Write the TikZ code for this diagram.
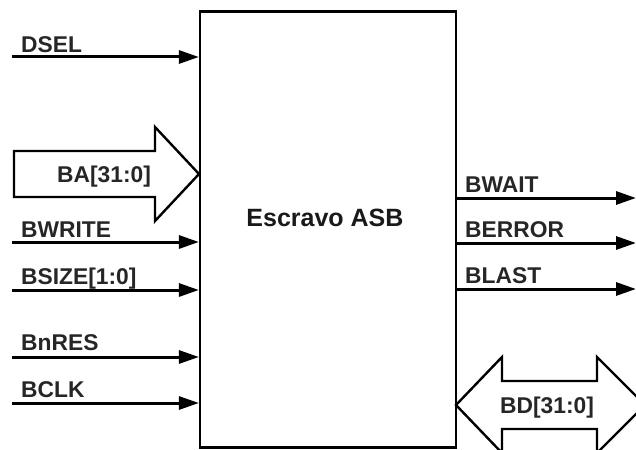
\documentclass[tikz,border=0pt]{standalone}
\usepackage{fontspec}
\setmainfont{Liberation Sans}
\usetikzlibrary{arrows.meta}
\begin{document}
\begin{tikzpicture}[x=1pt,y=-1pt,
  sig/.style={line width=3pt,-{Triangle[length=20pt,width=13pt]}},
  lbl/.style={anchor=base west,inner sep=0pt,font=\bfseries\fontsize{22.8}{26}\selectfont,text=black!85},
  bus/.style={line width=2.4pt,line join=miter,fill=white},
  blk/.style={draw,line width=2.2pt,minimum width=256pt,minimum height=436pt,inner sep=0pt}]
\useasboundingbox (0,0) rectangle (636,449);
% main block
\node[blk] (box) at (328,229.5) {};
\node[font=\bfseries\fontsize{25}{30}\selectfont,text=black!90,inner sep=0pt] (title) at (325,218) {Escravo ASB};
% input signals
\coordinate (dsel) at (12,57);
\coordinate (bwrite) at (12,242);
\coordinate (bsize) at (12,290);
\coordinate (bnres) at (12,357);
\coordinate (bclk) at (12,403);
\draw[sig] (dsel) -- (dsel -| box.west);
\draw[sig] (bwrite) -- (bwrite -| box.west);
\draw[sig] (bsize) -- (bsize -| box.west);
\draw[sig] (bnres) -- (bnres -| box.west);
\draw[sig] (bclk) -- (bclk -| box.west);
\node[lbl] (ldsel) at (21,53) {DSEL};
\node[lbl] (lbwrite) at (21,237) {BWRITE};
\node[lbl] (lbsize) at (21,284) {BSIZE[1:0]};
\node[lbl] (lbnres) at (21,350) {BnRES};
\node[lbl] (lbclk) at (21,397) {BCLK};
% output signals
\coordinate (bwait) at (636,198);
\coordinate (berror) at (636,243);
\coordinate (blast) at (636,289);
\draw[sig] (bwait -| box.east) -- (bwait);
\draw[sig] (berror -| box.east) -- (berror);
\draw[sig] (blast -| box.east) -- (blast);
\node[lbl] (lbwait) at (465,192) {BWAIT};
\node[lbl] (lberror) at (465,237) {BERROR};
\node[lbl] (lblast) at (465,283) {BLAST};
% BA bus arrow (input)
\draw[bus] (14,151) -- (155,151) -- (155,127) -- (199,174) -- (155,221) -- (155,197) -- (14,197) -- cycle;
\node[lbl] (lba) at (57,182) {BA[31:0]};
% BD bus arrow (bidirectional)
\draw[bus] (456,405) -- (502,357) -- (502,381) -- (597,381) -- (597,357) -- (645,405) -- (597,453) -- (597,429) -- (502,429) -- (502,453) -- cycle;
\node[lbl] (lbd) at (500,413) {BD[31:0]};
\end{tikzpicture}
\end{document}
